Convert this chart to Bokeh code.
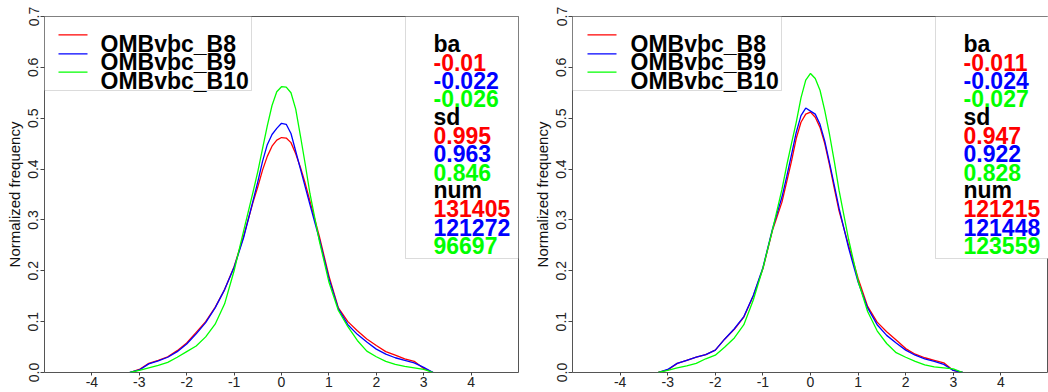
from bokeh.plotting import figure
from bokeh.layouts import row
from bokeh.models import Range1d, FixedTicker, BoxAnnotation, ColumnDataSource
from bokeh.core.properties import value
from bokeh.embed import file_html
from bokeh.resources import INLINE

# ---------------- data ----------------
SERIES = ["OMBvbc_B8", "OMBvbc_B9", "OMBvbc_B10"]
COLORS = ["#FF0000", "#0000FF", "#00FF00"]

X_GRID = [-3.2, -3.0, -2.8, -2.6, -2.4, -2.2, -2.0, -1.8, -1.6, -1.4, -1.2, -1.0,
          -0.8, -0.6, -0.5, -0.4, -0.3, -0.2, -0.1, 0.0, 0.1, 0.2, 0.3, 0.4, 0.5,
          0.6, 0.8, 1.0, 1.2, 1.4, 1.6, 1.8, 2.0, 2.2, 2.4, 2.6, 2.8, 3.0, 3.2]

LEFT_B8 = [0, 0.006, 0.018, 0.024, 0.031, 0.043, 0.058, 0.079, 0.100, 0.128, 0.163, 0.208,
           0.268, 0.335, 0.365, 0.398, 0.425, 0.445, 0.457, 0.462, 0.461, 0.452, 0.430, 0.403, 0.372,
           0.337, 0.267, 0.190, 0.127, 0.100, 0.082, 0.066, 0.053, 0.041, 0.034, 0.027, 0.022, 0.008, 0]
LEFT_B9 = [0, 0.005, 0.017, 0.023, 0.030, 0.041, 0.056, 0.076, 0.098, 0.127, 0.163, 0.207,
           0.265, 0.338, 0.375, 0.415, 0.448, 0.468, 0.480, 0.490, 0.488, 0.470, 0.435, 0.400, 0.365,
           0.330, 0.262, 0.185, 0.125, 0.094, 0.075, 0.060, 0.046, 0.036, 0.029, 0.024, 0.019, 0.010, 0]
LEFT_B10 = [0, 0.004, 0.009, 0.014, 0.020, 0.030, 0.041, 0.052, 0.070, 0.095, 0.135, 0.200,
            0.278, 0.355, 0.395, 0.440, 0.485, 0.525, 0.552, 0.562, 0.561, 0.550, 0.518, 0.465, 0.410,
            0.352, 0.258, 0.178, 0.122, 0.090, 0.063, 0.042, 0.031, 0.022, 0.016, 0.012, 0.009, 0.006, 0]

RIGHT_B8 = [0, 0.005, 0.018, 0.024, 0.030, 0.035, 0.044, 0.066, 0.085, 0.109, 0.151, 0.204,
            0.279, 0.335, 0.375, 0.415, 0.460, 0.492, 0.508, 0.512, 0.502, 0.482, 0.450, 0.408, 0.362,
            0.318, 0.250, 0.185, 0.130, 0.099, 0.080, 0.064, 0.047, 0.036, 0.029, 0.024, 0.019, 0.004, 0]
RIGHT_B9 = [0, 0.006, 0.018, 0.024, 0.030, 0.035, 0.044, 0.066, 0.086, 0.110, 0.152, 0.206,
            0.282, 0.345, 0.385, 0.428, 0.472, 0.505, 0.520, 0.514, 0.508, 0.488, 0.455, 0.412, 0.368,
            0.323, 0.245, 0.178, 0.127, 0.094, 0.073, 0.058, 0.044, 0.034, 0.027, 0.022, 0.016, 0.004, 0]
RIGHT_B10 = [0, 0.004, 0.009, 0.013, 0.018, 0.027, 0.034, 0.050, 0.068, 0.094, 0.143, 0.205,
             0.280, 0.360, 0.407, 0.450, 0.492, 0.540, 0.575, 0.588, 0.578, 0.555, 0.515, 0.468, 0.415,
             0.358, 0.262, 0.180, 0.120, 0.082, 0.057, 0.039, 0.030, 0.022, 0.015, 0.011, 0.009, 0.007, 0]

STAT_NAMES = ["ba", "sd", "num"]
LEFT_BA = ["-0.01", "-0.022", "-0.026"]
LEFT_SD = ["0.995", "0.963", "0.846"]
LEFT_NUM = ["131405", "121272", "96697"]
RIGHT_BA = ["-0.011", "-0.024", "-0.027"]
RIGHT_SD = ["0.947", "0.922", "0.828"]
RIGHT_NUM = ["121215", "121448", "123559"]

X_TICKS = [-4, -3, -2, -1, 0, 1, 2, 3, 4]
X_TICK_LABELS = ["-4", "-3", "-2", "-1", "0", "1", "2", "3", "4"]
Y_TICKS = [0.0, 0.1, 0.2, 0.3, 0.4, 0.5, 0.6, 0.7]
Y_TICK_LABELS = ["0.0", "0.1", "0.2", "0.3", "0.4", "0.5", "0.6", "0.7"]
Y_LABEL = "Normalized frequency"
X_RANGE = (-5, 5)
Y_RANGE = (0, 0.7)

FONT = "Liberation Sans"
HEIGHT = 392
MB_TOP = 16
MB_BOTTOM = 20
FH = HEIGHT - MB_TOP - MB_BOTTOM


def make_panel(curves, ba, sd, num, width, mb_left, mb_right, leg_text_x, leg_line_x0, leg_box_w):
    fw = width - mb_left - mb_right
    x0, x1 = X_RANGE
    y0, y1 = Y_RANGE

    def X(px):
        return x0 + px * (x1 - x0) / fw

    def Y(py):
        return y1 - py * (y1 - y0) / FH

    p = figure(width=width, height=HEIGHT, x_range=Range1d(*X_RANGE), y_range=Range1d(*Y_RANGE),
               output_backend="svg", toolbar_location=None,
               min_border_left=mb_left, min_border_right=mb_right,
               min_border_top=MB_TOP, min_border_bottom=MB_BOTTOM)
    p.grid.visible = False
    p.outline_line_color = "#555555"
    p.outline_line_width = 1
    p.background_fill_color = "white"
    p.border_fill_color = "white"

    # axes
    p.xaxis.ticker = FixedTicker(ticks=X_TICKS)
    p.xaxis.major_label_overrides = dict(zip(X_TICKS, X_TICK_LABELS))
    p.yaxis.ticker = FixedTicker(ticks=Y_TICKS)
    p.yaxis.major_label_overrides = dict(zip(Y_TICKS, Y_TICK_LABELS))
    p.yaxis.major_label_orientation = "vertical"
    p.yaxis.axis_label = Y_LABEL
    for ax in (p.xaxis, p.yaxis):
        ax.axis_line_color = None
        ax.minor_tick_line_color = None
        ax.major_tick_line_color = "#444444"
        ax.major_tick_in = 0
        ax.major_tick_out = 4
        ax.major_label_text_font = FONT
        ax.major_label_text_font_size = "14px"
        ax.major_label_text_color = "#222222"
        ax.major_label_standoff = 1
    p.xaxis.major_tick_out = 3
    p.yaxis.major_label_standoff = 2
    p.yaxis.axis_label_text_font = FONT
    p.yaxis.axis_label_text_font_size = "15px"
    p.yaxis.axis_label_text_font_style = "normal"
    p.yaxis.axis_label_text_color = "#111111"
    p.yaxis.axis_label_standoff = 3

    # curves
    for ys, c in zip(curves, COLORS):
        p.line(X_GRID, ys, line_color=c, line_width=1.3)

    # legend box (top-left)
    p.add_layout(BoxAnnotation(left=X(0), right=X(leg_box_w), top=Y(0), bottom=Y(74),
                               fill_color="white", fill_alpha=1.0, line_color="#888888",
                               line_width=1, level="underlay"))
    leg_line_y = [Y(18.3), Y(37.3), Y(55.7)]
    p.segment(x0=[X(leg_line_x0)] * 3, x1=[X(leg_line_x0 + 29)] * 3, y0=leg_line_y, y1=leg_line_y,
              line_color=COLORS, line_width=1.3)
    p.text(x=[X(leg_text_x)] * 3, y=[Y(27.3), Y(45.8), Y(64.5)], text=SERIES,
           text_font=value(FONT), text_font_style="bold", text_font_size="23px",
           text_color="black", text_baseline="alphabetic", text_align="left")

    # stats box (top-right)
    p.add_layout(BoxAnnotation(left=X(fw - 113), right=X(fw), top=Y(0), bottom=Y(242),
                               fill_color="white", fill_alpha=1.0, line_color="#888888",
                               line_width=1, level="underlay"))
    texts, cols = [], []
    for name, vals in zip(STAT_NAMES, (ba, sd, num)):
        texts.append(name)
        cols.append("black")
        for v, c in zip(vals, COLORS):
            texts.append(v)
            cols.append(c)
    ys = [Y(27.3 + 18.33 * k) for k in range(len(texts))]
    src = ColumnDataSource(dict(x=[X(fw - 85)] * len(texts), y=ys, t=texts, c=cols))
    p.text(x="x", y="y", text="t", text_color="c", source=src,
           text_font=value(FONT), text_font_style="bold", text_font_size="23px",
           text_baseline="alphabetic", text_align="left")
    return p


left = make_panel([LEFT_B8, LEFT_B9, LEFT_B10], LEFT_BA, LEFT_SD, LEFT_NUM,
                  width=520, mb_left=44, mb_right=2, leg_text_x=56, leg_line_x0=14, leg_box_w=207)
right = make_panel([RIGHT_B8, RIGHT_B9, RIGHT_B10], RIGHT_BA, RIGHT_SD, RIGHT_NUM,
                   width=528, mb_left=52, mb_right=0, leg_text_x=58, leg_line_x0=15, leg_box_w=209)

layout = row(left, right, spacing=0)
open("out.html", "w").write(file_html(layout, INLINE))
